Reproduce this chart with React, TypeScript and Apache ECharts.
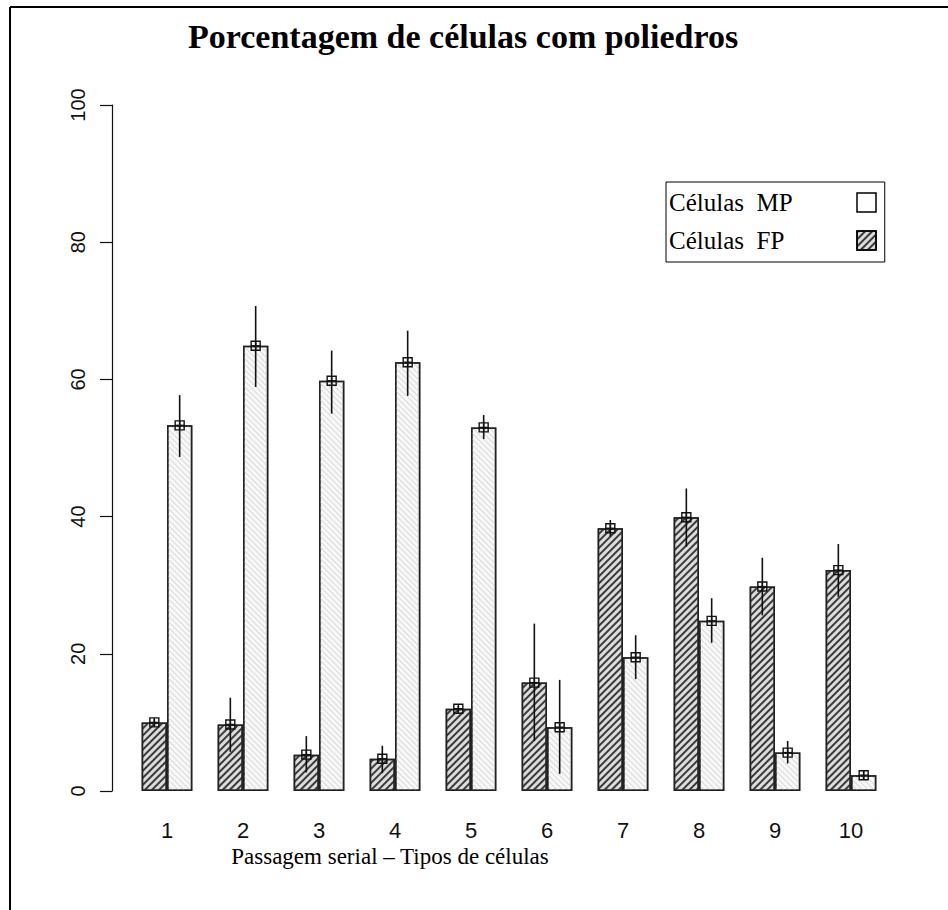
import React, { useEffect, useRef } from 'react';
import * as echarts from 'echarts';

const categories = ['1', '2', '3', '4', '5', '6', '7', '8', '9', '10'];
const fpName = 'Células  FP';
const mpName = 'Células  MP';
const fpMean = [10.0, 9.7, 5.3, 4.7, 12.0, 15.8, 38.3, 39.9, 29.8, 32.2];
const fpLow = [9.5, 5.7, 2.7, 2.6, 11.6, 7.3, 37.1, 35.6, 25.6, 28.3];
const fpHigh = [10.5, 13.6, 8.0, 6.6, 12.4, 24.4, 39.5, 44.1, 34.0, 36.0];
const mpMean = [53.3, 64.9, 59.8, 62.5, 53.0, 9.3, 19.5, 24.8, 5.6, 2.3];
const mpLow = [48.7, 58.9, 55.0, 57.6, 51.3, 2.5, 16.3, 21.6, 4.0, 1.6];
const mpHigh = [57.7, 70.7, 64.2, 67.1, 54.8, 16.2, 22.7, 28.1, 7.3, 3.0];
const yMin = 0;
const yMax = 100;
const yStep = 20;
const titleText = 'Porcentagem de células com poliedros';
const xTitle = 'Passagem serial – Tipos de células';

const sans = '"Liberation Sans", Arial, sans-serif';
const serif = '"Liberation Serif", "Times New Roman", serif';

function errorSeries(name: string, mean: number[], low: number[], high: number[], shift: number) {
  return {
    type: 'custom',
    name: name + ' err',
    z: 10,
    silent: true,
    data: mean.map((m, i) => [i, m, low[i], high[i]]),
    encode: { x: 0, y: [1, 2, 3] },
    renderItem: (params: any, api: any) => {
      const idx = api.value(0);
      const c = api.coord([idx, api.value(1)]);
      const lo = api.coord([idx, api.value(2)]);
      const hi = api.coord([idx, api.value(3)]);
      const band = api.size([1, 0])[0];
      const x = c[0] + shift * band;
      const h = 4.5;
      const stroke = { stroke: '#111', lineWidth: 1.4 };
      return {
        type: 'group',
        children: [
          { type: 'line', shape: { x1: x, y1: hi[1], x2: x, y2: lo[1] }, style: { stroke: '#111', lineWidth: 1.6 } },
          { type: 'rect', shape: { x: x - h, y: c[1] - h, width: 2 * h, height: 2 * h }, style: { fill: 'none', ...stroke } },
          { type: 'line', shape: { x1: x - h, y1: c[1], x2: x + h, y2: c[1] }, style: stroke },
          { type: 'line', shape: { x1: x, y1: c[1] - h, x2: x, y2: c[1] + h }, style: stroke },
        ],
      };
    },
  };
}

export default function App() {
  const ref = useRef<HTMLDivElement>(null);
  useEffect(() => {
    if (!ref.current) return;
    const chart = echarts.init(ref.current, null, { renderer: 'svg' });
    const fpDecal = {
      symbol: 'rect',
      symbolSize: 1,
      dashArrayX: [1, 0],
      dashArrayY: [1.3, 2.7],
      rotation: -Math.PI / 4,
      color: '#3a3a3a',
    };
    const mpDecal = {
      symbol: 'rect',
      symbolSize: 1,
      dashArrayX: [1, 0],
      dashArrayY: [1, 3],
      rotation: Math.PI / 4,
      color: '#d9d9d9',
    };
    chart.setOption({
      animation: false,
      backgroundColor: '#ffffff',
      title: {
        text: titleText,
        left: 183,
        top: 14,
        textStyle: { fontFamily: serif, fontWeight: 'bold', fontSize: 34, color: '#000' },
      },
      legend: {
        orient: 'vertical',
        left: 666,
        top: 182,
        padding: [8, 8, 9, 3],
        itemGap: 13,
        itemWidth: 19,
        itemHeight: 19,
        align: 'right',
        icon: 'rect',
        borderColor: '#000',
        borderWidth: 1,
        selectedMode: false,
        formatter: (name: string) => '{t|' + name + '}',
        textStyle: {
          fontFamily: serif,
          fontSize: 25,
          color: '#000',
          rich: { t: { width: 183, height: 19, lineHeight: 19, align: 'left', fontFamily: serif, fontSize: 25, color: '#000' } },
        },
        data: [
          { name: mpName, itemStyle: { color: '#ffffff', decal: 'none', borderColor: '#000', borderWidth: 1.5 } },
          { name: fpName, itemStyle: { borderColor: '#000', borderWidth: 1.5 } },
        ],
      },
      grid: { left: 129, right: 59, top: 105, bottom: 119, containLabel: false },
      xAxis: {
        type: 'category',
        data: categories,
        axisLine: { show: false },
        axisTick: { show: false },
        axisLabel: { fontFamily: sans, fontSize: 22, color: '#111', margin: 28 },
      },
      yAxis: {
        type: 'value',
        min: yMin,
        max: yMax,
        interval: yStep,
        offset: 17,
        splitLine: { show: false },
        axisLine: { show: true, lineStyle: { color: '#111', width: 1.2 } },
        axisTick: { show: true, length: 12, lineStyle: { color: '#111', width: 1.2 } },
        axisLabel: { fontFamily: sans, fontSize: 20, color: '#111', rotate: 90, margin: 24 },
      },
      graphic: [
        { type: 'line', shape: { x1: 10, y1: 7, x2: 10, y2: 910 }, style: { stroke: '#000', lineWidth: 2 } },
        { type: 'line', shape: { x1: 10, y1: 7, x2: 948, y2: 7 }, style: { stroke: '#000', lineWidth: 2 } },
        {
          type: 'text',
          x: 390,
          y: 856,
          style: { text: xTitle, fontFamily: serif, fontSize: 23, fill: '#000', align: 'center', verticalAlign: 'middle' },
        },
      ],
      series: [
        {
          type: 'bar',
          name: fpName,
          data: fpMean,
          barWidth: '33.33%',
          barGap: '0%',
          itemStyle: { color: '#dcdcdc', borderColor: '#222', borderWidth: 1.5, decal: fpDecal },
        },
        {
          type: 'bar',
          name: mpName,
          data: mpMean,
          barWidth: '33.33%',
          barGap: '0%',
          itemStyle: { color: '#f8f8f8', borderColor: '#222', borderWidth: 1.5, decal: mpDecal },
        },
        errorSeries(fpName, fpMean, fpLow, fpHigh, -1 / 6),
        errorSeries(mpName, mpMean, mpLow, mpHigh, 1 / 6),
      ],
    });
    return () => chart.dispose();
  }, []);
  return <div ref={ref} style={{ position: 'fixed', left: 0, top: 0, width: 948, height: 910 }} />;
}
